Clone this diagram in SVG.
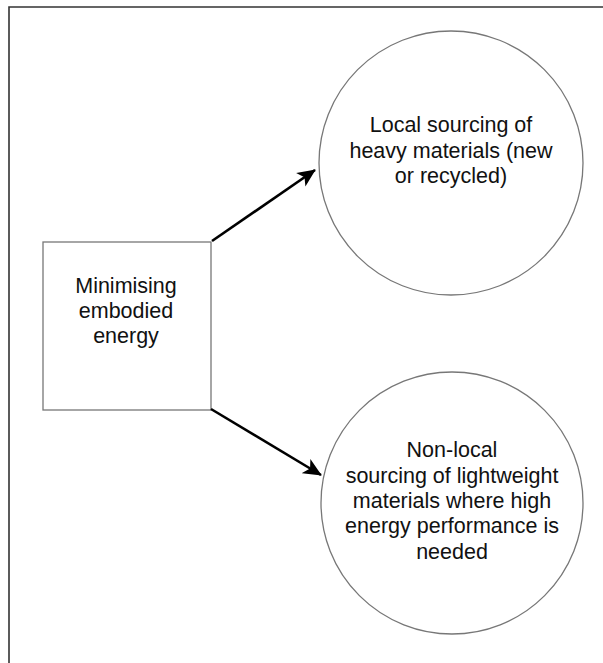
<svg xmlns="http://www.w3.org/2000/svg" width="603" height="663" viewBox="0 0 603 663">
  <style>
    .frame { fill: none; stroke: #333; stroke-width: 1.6; }
    .node { fill: #fff; stroke: #777; stroke-width: 1.3; }
    .label { font-family: "Liberation Sans", Arial, Helvetica, sans-serif; font-size: 21.5px; fill: #111; text-anchor: middle; }
    .edge { fill: none; stroke: #000; stroke-width: 2.6; }
  </style>
  <defs>
    <marker id="arrow" viewBox="0 0 10 10" refX="9.5" refY="5" markerWidth="7" markerHeight="7" markerUnits="strokeWidth" orient="auto">
      <path d="M0,0.5 L10,5 L0,9.5 L2.5,5 Z" fill="#000"/>
    </marker>
  </defs>

  <!-- outer frame: top and left rules only -->
  <path class="frame" d="M603,7 L9,7 L9,663"/>

  <g id="node-minimising">
    <rect class="node" x="43" y="242" width="168" height="168"/>
    <text class="label" x="126" y="293">Minimising</text>
    <text class="label" x="126" y="318">embodied</text>
    <text class="label" x="126" y="343">energy</text>
  </g>

  <g id="node-local">
    <circle class="node" cx="451" cy="163" r="132"/>
    <text class="label" x="451" y="132">Local sourcing of</text>
    <text class="label" x="451" y="158">heavy materials (new</text>
    <text class="label" x="451" y="183">or recycled)</text>
  </g>

  <g id="node-nonlocal">
    <circle class="node" cx="452" cy="503" r="131"/>
    <text class="label" x="452" y="457">Non-local</text>
    <text class="label" x="452" y="483">sourcing of lightweight</text>
    <text class="label" x="452" y="508">materials where high</text>
    <text class="label" x="452" y="533">energy performance is</text>
    <text class="label" x="452" y="559">needed</text>
  </g>

  <g id="connectors">
    <line class="edge" x1="212" y1="241" x2="315" y2="170" marker-end="url(#arrow)"/>
    <line class="edge" x1="211" y1="409" x2="321" y2="475" marker-end="url(#arrow)"/>
  </g>
</svg>
